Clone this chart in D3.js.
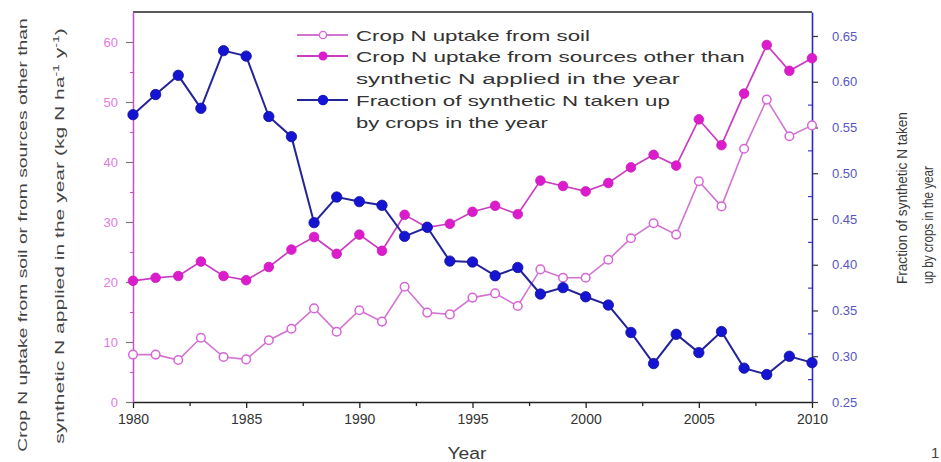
<!DOCTYPE html>
<html>
<head>
<meta charset="utf-8">
<script src="https://cdn.jsdelivr.net/npm/d3@7/dist/d3.min.js"></script>
<style>
  body { margin: 0; background: #fff; }
  svg { display: block; }
  text { font-family: Arial, "Liberation Sans", sans-serif; }
</style>
</head>
<body>
<svg id="chart" width="941" height="462"></svg>
<script>
// Years on the x axis
const years = [1980, 1981, 1982, 1983, 1984, 1985, 1986, 1987, 1988, 1989,
               1990, 1991, 1992, 1993, 1994, 1995, 1996, 1997, 1998, 1999,
               2000, 2001, 2002, 2003, 2004, 2005, 2006, 2007, 2008, 2009, 2010];

// Crop N uptake from soil (kg N ha-1 y-1)
const soilUptake = [7.9, 7.9, 7.0, 10.7, 7.5, 7.1, 10.3, 12.2, 15.6, 11.7,
                    15.3, 13.4, 19.2, 14.9, 14.6, 17.4, 18.1, 16.0, 22.1, 20.7,
                    20.7, 23.7, 27.3, 29.8, 27.9, 36.8, 32.6, 42.2, 50.4, 44.3, 46.1];

// Crop N uptake from sources other than synthetic N applied in the year (kg N ha-1 y-1)
const otherUptake = [20.2, 20.7, 21.0, 23.4, 21.0, 20.3, 22.5, 25.4, 27.5, 24.7,
                     27.9, 25.2, 31.2, 29.1, 29.7, 31.7, 32.7, 31.3, 36.9, 36.0,
                     35.1, 36.5, 39.1, 41.2, 39.4, 47.1, 42.8, 51.4, 59.5, 55.2, 57.3];

// Fraction of synthetic N taken up by crops in the year
const fraction = [0.564, 0.586, 0.607, 0.571, 0.634, 0.628, 0.562, 0.540, 0.446, 0.474,
                  0.469, 0.465, 0.431, 0.441, 0.404, 0.403, 0.388, 0.397, 0.368, 0.375,
                  0.365, 0.356, 0.326, 0.292, 0.324, 0.304, 0.327, 0.287, 0.280, 0.300, 0.293];

// Tick values
const xTicks = [1980, 1985, 1990, 1995, 2000, 2005, 2010];
const xMinorTicks = [1982.5, 1987.5, 1992.5, 1997.5, 2002.5, 2007.5];
const leftTicks = [0, 10, 20, 30, 40, 50, 60];
const leftMinorTicks = [5, 15, 25, 35, 45, 55];
const rightTicks = [0.25, 0.30, 0.35, 0.40, 0.45, 0.50, 0.55, 0.60, 0.65];
const rightMinorTicks = [0.275, 0.325, 0.375, 0.425, 0.475, 0.525, 0.575, 0.625];

// Legend entries
const legendLines = [
  "Crop N uptake from soil",
  "Crop N uptake from sources other than",
  "synthetic N applied in the year",
  "Fraction of synthetic N taken up",
  "by crops in the year"
];

const C = {
  soil: "#d865d8", soilLine: "#d274d2",
  other: "#dc1ccc", otherLine: "#cc3cc2",
  frac: "#1414d2", fracLine: "#24249a",
  leftAxis: "#c850c8", leftLabel: "#e37ae3",
  rightAxis: "#2a2ac8", rightLabel: "#5656c6",
  text: "#333333"
};

const svg = d3.select("#chart");
const box = { left: 133, right: 812, top: 12, bottom: 402 };

const x = d3.scaleLinear().domain([1980, 2010]).range([box.left, box.right]);
const yL = d3.scaleLinear().domain([0, 65]).range([box.bottom, box.top]);
const yR = d3.scaleLinear().domain([0.25, 0.6762]).range([box.bottom, box.top]);

// stretch a text element horizontally (in its own frame) to a given length
function fit(t, len, tx, ty, rot) {
  const w = t.node().getComputedTextLength();
  const s = len / w;
  t.attr("transform", `translate(${tx},${ty})` + (rot ? ` rotate(${rot})` : "") + ` scale(${s},1)`);
}

// top frame line
svg.append("line")
  .attr("x1", box.left).attr("x2", box.right)
  .attr("y1", box.top).attr("y2", box.top)
  .attr("stroke", "#222").attr("stroke-width", 1.3);

// bottom axis
const gx = svg.append("g").attr("transform", `translate(0,${box.bottom})`)
  .call(d3.axisBottom(x).tickValues(xTicks).tickFormat(d3.format("d"))
        .tickSize(6).tickSizeOuter(0).tickPadding(6));
gx.select(".domain").attr("stroke", "#222").attr("stroke-width", 1.5);
gx.selectAll(".tick line").attr("stroke", "#222").attr("stroke-width", 1.3);
gx.selectAll(".tick text").attr("font-size", 14).attr("fill", C.text)
  .attr("font-family", "Arial, 'Liberation Sans', sans-serif");
const gxm = svg.append("g").attr("transform", `translate(0,${box.bottom})`)
  .call(d3.axisBottom(x).tickValues(xMinorTicks).tickFormat("").tickSize(4).tickSizeOuter(0));
gxm.select(".domain").remove();
gxm.selectAll(".tick line").attr("stroke", "#222").attr("stroke-width", 1.3);

// left axis
const gl = svg.append("g").attr("transform", `translate(${box.left},0)`)
  .call(d3.axisLeft(yL).tickValues(leftTicks).tickSize(7).tickSizeOuter(0).tickPadding(8));
gl.select(".domain").attr("stroke", C.leftAxis).attr("stroke-width", 1.5);
gl.selectAll(".tick line").attr("stroke", "#777").attr("stroke-width", 1.2);
gl.selectAll(".tick text").attr("font-size", 13).attr("fill", C.leftLabel)
  .attr("font-family", "Arial, 'Liberation Sans', sans-serif");
const glm = svg.append("g").attr("transform", `translate(${box.left},0)`)
  .call(d3.axisLeft(yL).tickValues(leftMinorTicks).tickFormat("").tickSize(3).tickSizeOuter(0));
glm.select(".domain").remove();
glm.selectAll(".tick line").attr("stroke", C.leftAxis).attr("stroke-width", 1.1);

// right axis
const gr = svg.append("g").attr("transform", `translate(${box.right},0)`)
  .call(d3.axisRight(yR).tickValues(rightTicks).tickFormat(d3.format(".2f"))
        .tickSize(6).tickSizeOuter(0).tickPadding(14));
gr.select(".domain").attr("stroke", C.rightAxis).attr("stroke-width", 1.6);
gr.selectAll(".tick line").attr("stroke", "#333").attr("stroke-width", 1.2);
gr.selectAll(".tick text").attr("font-size", 13).attr("fill", C.rightLabel)
  .attr("font-family", "Arial, 'Liberation Sans', sans-serif");
const grm = svg.append("g").attr("transform", `translate(${box.right},0)`)
  .call(d3.axisRight(yR).tickValues(rightMinorTicks).tickFormat("").tickSize(-4).tickSizeOuter(0));
grm.select(".domain").remove();
grm.selectAll(".tick line").attr("stroke", C.rightAxis).attr("stroke-width", 1.1);

// series
const soilLine = d3.line().x((d, i) => x(years[i])).y(d => yL(d));
const fracLine = d3.line().x((d, i) => x(years[i])).y(d => yR(d));

svg.append("path").datum(soilUptake).attr("d", soilLine)
  .attr("fill", "none").attr("stroke", C.soilLine).attr("stroke-width", 1.6);
svg.append("g").selectAll("circle").data(soilUptake).join("circle")
  .attr("cx", (d, i) => x(years[i])).attr("cy", d => yL(d)).attr("r", 4.3)
  .attr("fill", "#fff").attr("stroke", C.soil).attr("stroke-width", 1.5);

svg.append("path").datum(otherUptake).attr("d", soilLine)
  .attr("fill", "none").attr("stroke", C.otherLine).attr("stroke-width", 1.7);
svg.append("g").selectAll("circle").data(otherUptake).join("circle")
  .attr("cx", (d, i) => x(years[i])).attr("cy", d => yL(d)).attr("r", 4.8)
  .attr("fill", C.other).attr("stroke", "#c81ab8").attr("stroke-width", 0.8);

svg.append("path").datum(fraction).attr("d", fracLine)
  .attr("fill", "none").attr("stroke", C.fracLine).attr("stroke-width", 2);
svg.append("g").selectAll("circle").data(fraction).join("circle")
  .attr("cx", (d, i) => x(years[i])).attr("cy", d => yR(d)).attr("r", 5.2)
  .attr("fill", C.frac).attr("stroke", "#1010a0").attr("stroke-width", 0.8);

// legend
const legY = [35, 56, 78, 100, 122];
const legEnd = [590, 745, 680, 670, 548];
const legX0 = 297, legX1 = 348, legMk = 323, legTx = 356;
const legendKeys = [
  { row: 0, stroke: C.soilLine, fill: "#fff", mstroke: C.soil, r: 3.6 },
  { row: 1, stroke: C.otherLine, fill: C.other, mstroke: C.other, r: 3.8 },
  { row: 3, stroke: C.fracLine, fill: C.frac, mstroke: C.frac, r: 4.5 }
];
const lg = svg.append("g");
legendKeys.forEach(k => {
  lg.append("line").attr("x1", legX0).attr("x2", legX1)
    .attr("y1", legY[k.row]).attr("y2", legY[k.row])
    .attr("stroke", k.stroke).attr("stroke-width", 1.8);
  lg.append("circle").attr("cx", legMk).attr("cy", legY[k.row]).attr("r", k.r)
    .attr("fill", k.fill).attr("stroke", k.mstroke).attr("stroke-width", 1.4);
});
legendLines.forEach((s, i) => {
  const t = lg.append("text").text(s).attr("font-size", 15).attr("fill", C.text);
  fit(t, legEnd[i] - legTx, legTx, legY[i] + 5.5, 0);
});

// axis titles
const tL1 = svg.append("text").attr("text-anchor", "middle").attr("font-size", 13.5)
  .attr("fill", "#444").text("Crop N uptake from soil or from sources other than");
fit(tL1, 434, 27, 235, -90);
const tL2 = svg.append("text").attr("text-anchor", "middle").attr("font-size", 13.5).attr("fill", "#444");
tL2.append("tspan").text("synthetic N applied in the year (kg N ha");
tL2.append("tspan").text("-1").attr("font-size", 9).attr("dy", -5);
tL2.append("tspan").text(" y").attr("dy", 5);
tL2.append("tspan").text("-1").attr("font-size", 9).attr("dy", -5);
tL2.append("tspan").text(")").attr("dy", 5);
fit(tL2, 416, 64, 236, -90);

const tR1 = svg.append("text").attr("text-anchor", "start").attr("font-size", 15)
  .attr("fill", "#3a3a3a").text("Fraction of synthetic N taken");
fit(tR1, 172, 907, 284, -90);
const tR2 = svg.append("text").attr("text-anchor", "start").attr("font-size", 15)
  .attr("fill", "#3a3a3a").text("up by crops in the year");
fit(tR2, 118, 933, 284, -90);

const tX = svg.append("text").attr("text-anchor", "middle").attr("font-size", 17)
  .attr("fill", "#3a3a3a").text("Year");
fit(tX, 39, 467, 459, 0);

svg.append("text").attr("x", 931).attr("y", 458).attr("font-size", 15)
  .attr("fill", "#444").text("1");
</script>
</body>
</html>
